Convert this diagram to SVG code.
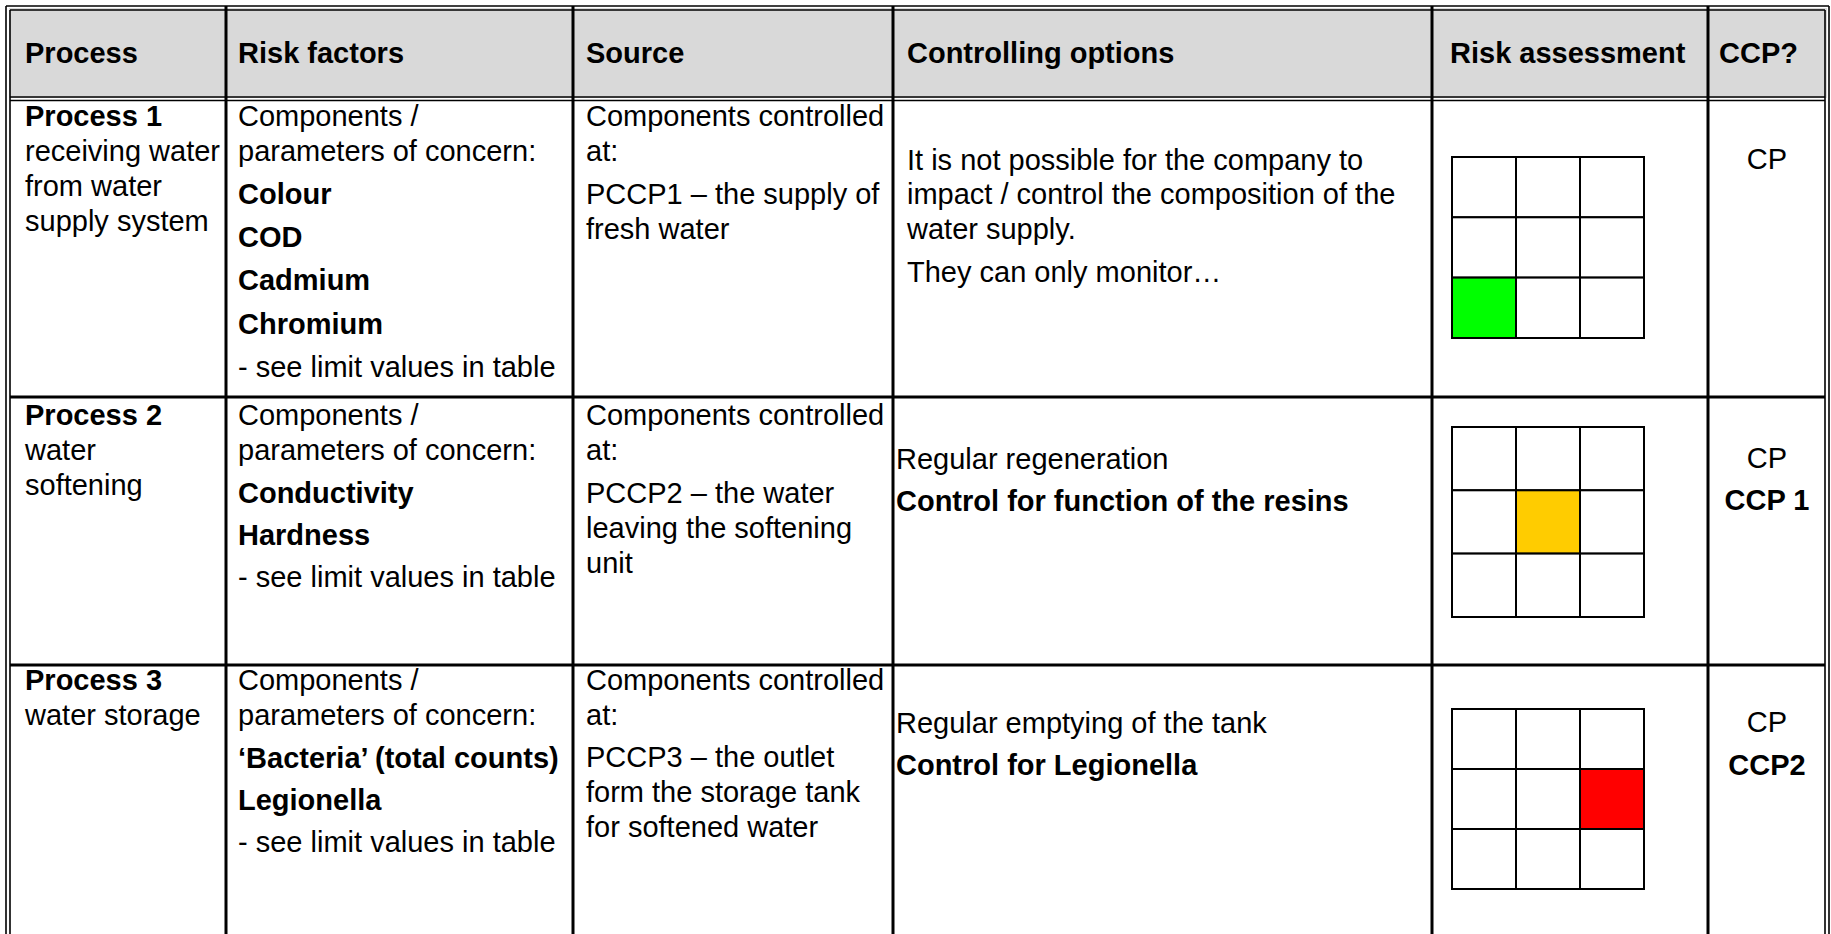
<svg xmlns="http://www.w3.org/2000/svg" width="1831" height="934" viewBox="0 0 1831 934">
<style>
.t{font-family:"Liberation Sans",Arial,Helvetica,sans-serif;font-size:29px;fill:#000}
.b{font-weight:bold}
.m{text-anchor:middle}
.cell{fill:#fff;stroke:#000;stroke-width:2}
.ln{stroke:#000;stroke-width:3;fill:none}
.thin{stroke:#000;stroke-width:1.6;fill:none}
</style>
<rect x="0" y="0" width="1831" height="934" fill="#fff"/>
<rect x="9" y="8" width="1818" height="90" fill="#d9d9d9"/>

<g id="connectors">
  <line class="thin" x1="6" y1="6" x2="1829" y2="6"/>
  <line class="thin" x1="10" y1="10" x2="1825" y2="10"/>
  <line class="thin" x1="10" y1="97" x2="1825" y2="97"/>
  <line class="thin" x1="10" y1="100.5" x2="1825" y2="100.5"/>
  <line class="thin" x1="6" y1="6" x2="6" y2="934"/>
  <line class="thin" x1="10" y1="10" x2="10" y2="934"/>
  <line class="thin" x1="1825" y1="10" x2="1825" y2="934"/>
  <line class="thin" x1="1829" y1="6" x2="1829" y2="934"/>
  <line class="ln" x1="226" y1="6" x2="226" y2="934"/>
  <line class="ln" x1="573" y1="6" x2="573" y2="934"/>
  <line class="ln" x1="893" y1="6" x2="893" y2="934"/>
  <line class="ln" x1="1432" y1="6" x2="1432" y2="934"/>
  <line class="ln" x1="1708" y1="6" x2="1708" y2="934"/>
  <line class="ln" x1="10" y1="397" x2="1825" y2="397"/>
  <line class="ln" x1="10" y1="665" x2="1825" y2="665"/>
</g>

<g id="header">
  <text class="t b" x="25" y="63">Process</text>
  <text class="t b" x="238" y="63">Risk factors</text>
  <text class="t b" x="586" y="63">Source</text>
  <text class="t b" x="907" y="63">Controlling options</text>
  <text class="t b" x="1450" y="63">Risk assessment</text>
  <text class="t b" x="1719" y="63">CCP?</text>
</g>

<g id="row1">
  <text class="t b" x="25" y="126">Process 1</text>
  <text class="t" x="25" y="161">receiving water</text>
  <text class="t" x="25" y="196">from water</text>
  <text class="t" x="25" y="231">supply system</text>
  <text class="t" x="238" y="126">Components /</text>
  <text class="t" x="238" y="161">parameters of concern:</text>
  <text class="t b" x="238" y="204">Colour</text>
  <text class="t b" x="238" y="247">COD</text>
  <text class="t b" x="238" y="290">Cadmium</text>
  <text class="t b" x="238" y="334">Chromium</text>
  <text class="t" x="238" y="377">- see limit values in table</text>
  <text class="t" x="586" y="126">Components controlled</text>
  <text class="t" x="586" y="161">at:</text>
  <text class="t" x="586" y="204">PCCP1 – the supply of</text>
  <text class="t" x="586" y="239">fresh water</text>
  <text class="t" x="907" y="170">It is not possible for the company to</text>
  <text class="t" x="907" y="204">impact / control the composition of the</text>
  <text class="t" x="907" y="239">water supply.</text>
  <text class="t" x="907" y="282">They can only monitor…</text>
  <text class="t m" x="1767" y="169">CP</text>
</g>
<g id="risk1">
  <rect class="cell" x="1452" y="157" width="64" height="60.3"/>
  <rect class="cell" x="1516" y="157" width="64" height="60.3"/>
  <rect class="cell" x="1580" y="157" width="64" height="60.3"/>
  <rect class="cell" x="1452" y="217.3" width="64" height="60.3"/>
  <rect class="cell" x="1516" y="217.3" width="64" height="60.3"/>
  <rect class="cell" x="1580" y="217.3" width="64" height="60.3"/>
  <rect class="cell" x="1452" y="277.6" width="64" height="60.4" style="fill:#00ff00"/>
  <rect class="cell" x="1516" y="277.6" width="64" height="60.4"/>
  <rect class="cell" x="1580" y="277.6" width="64" height="60.4"/>
</g>

<g id="row2">
  <text class="t b" x="25" y="425">Process 2</text>
  <text class="t" x="25" y="460">water</text>
  <text class="t" x="25" y="495">softening</text>
  <text class="t" x="238" y="425">Components /</text>
  <text class="t" x="238" y="460">parameters of concern:</text>
  <text class="t b" x="238" y="503">Conductivity</text>
  <text class="t b" x="238" y="545">Hardness</text>
  <text class="t" x="238" y="587">- see limit values in table</text>
  <text class="t" x="586" y="425">Components controlled</text>
  <text class="t" x="586" y="460">at:</text>
  <text class="t" x="586" y="503">PCCP2 – the water</text>
  <text class="t" x="586" y="538">leaving the softening</text>
  <text class="t" x="586" y="573">unit</text>
  <text class="t" x="896" y="469">Regular regeneration</text>
  <text class="t b" x="896" y="511">Control for function of the resins</text>
  <text class="t m" x="1767" y="468">CP</text>
  <text class="t b m" x="1767" y="510">CCP 1</text>
</g>
<g id="risk2">
  <rect class="cell" x="1452" y="427" width="64" height="63.3"/>
  <rect class="cell" x="1516" y="427" width="64" height="63.3"/>
  <rect class="cell" x="1580" y="427" width="64" height="63.3"/>
  <rect class="cell" x="1452" y="490.3" width="64" height="63.3"/>
  <rect class="cell" x="1516" y="490.3" width="64" height="63.3" style="fill:#ffcc00"/>
  <rect class="cell" x="1580" y="490.3" width="64" height="63.3"/>
  <rect class="cell" x="1452" y="553.6" width="64" height="63.4"/>
  <rect class="cell" x="1516" y="553.6" width="64" height="63.4"/>
  <rect class="cell" x="1580" y="553.6" width="64" height="63.4"/>
</g>

<g id="row3">
  <text class="t b" x="25" y="690">Process 3</text>
  <text class="t" x="25" y="725">water storage</text>
  <text class="t" x="238" y="690">Components /</text>
  <text class="t" x="238" y="725">parameters of concern:</text>
  <text class="t b" x="238" y="768">‘Bacteria’ (total counts)</text>
  <text class="t b" x="238" y="810">Legionella</text>
  <text class="t" x="238" y="852">- see limit values in table</text>
  <text class="t" x="586" y="690">Components controlled</text>
  <text class="t" x="586" y="725">at:</text>
  <text class="t" x="586" y="767">PCCP3 – the outlet</text>
  <text class="t" x="586" y="802">form the storage tank</text>
  <text class="t" x="586" y="837">for softened water</text>
  <text class="t" x="896" y="733">Regular emptying of the tank</text>
  <text class="t b" x="896" y="775">Control for Legionella</text>
  <text class="t m" x="1767" y="732">CP</text>
  <text class="t b m" x="1767" y="775">CCP2</text>
</g>
<g id="risk3">
  <rect class="cell" x="1452" y="709" width="64" height="60"/>
  <rect class="cell" x="1516" y="709" width="64" height="60"/>
  <rect class="cell" x="1580" y="709" width="64" height="60"/>
  <rect class="cell" x="1452" y="769" width="64" height="60"/>
  <rect class="cell" x="1516" y="769" width="64" height="60"/>
  <rect class="cell" x="1580" y="769" width="64" height="60" style="fill:#ff0000"/>
  <rect class="cell" x="1452" y="829" width="64" height="60"/>
  <rect class="cell" x="1516" y="829" width="64" height="60"/>
  <rect class="cell" x="1580" y="829" width="64" height="60"/>
</g>
</svg>
